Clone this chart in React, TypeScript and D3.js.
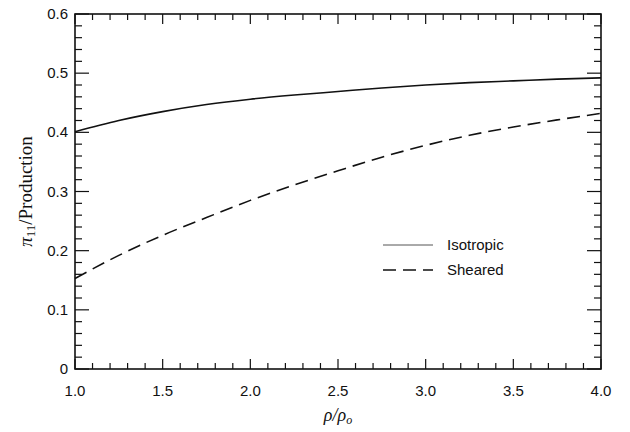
import React from "react";
import * as d3 from "d3";

const xValues = [1.0, 1.25, 1.5, 1.75, 2.0, 2.25, 2.5, 2.75, 3.0, 3.25, 3.5, 3.75, 4.0];
const isotropic = [0.401, 0.42, 0.435, 0.447, 0.456, 0.463, 0.469, 0.475, 0.480, 0.484, 0.487, 0.490, 0.492];
const sheared = [0.153, 0.192, 0.226, 0.256, 0.285, 0.311, 0.335, 0.358, 0.378, 0.395, 0.409, 0.421, 0.432];
const xTickLabels = ["1.0", "1.5", "2.0", "2.5", "3.0", "3.5", "4.0"];
const yTickLabels = ["0", "0.1", "0.2", "0.3", "0.4", "0.5", "0.6"];
const legendLabels = ["Isotropic", "Sheared"];

const W = 630;
const H = 432;
const left = 75;
const right = 601;
const top = 14;
const bottom = 369;

export default function App() {
  const x = d3.scaleLinear().domain([1, 4]).range([left, right]);
  const y = d3.scaleLinear().domain([0, 0.6]).range([bottom, top]);
  const line = d3
    .line<[number, number]>()
    .x((d) => x(d[0]))
    .y((d) => y(d[1]))
    .curve(d3.curveMonotoneX);

  const isoPts = xValues.map((v, i) => [v, isotropic[i]] as [number, number]);
  const shPts = xValues.map((v, i) => [v, sheared[i]] as [number, number]);

  const xMinor = d3.range(0, 31).map((i) => 1 + i * 0.1);
  const yMinor = d3.range(0, 31).map((i) => i * 0.02);

  const sans = "'Liberation Sans', Arial, Helvetica, sans-serif";
  const serif = "'Liberation Serif', 'Times New Roman', serif";

  return (
    <svg
      width={W}
      height={H}
      style={{ position: "absolute", left: 0, top: 0, background: "#fff" }}
    >
      <rect x={0} y={0} width={W} height={H} fill="#fff" />
      {xMinor.map((v, i) => {
        const major = i % 5 === 0;
        const len = major ? 10 : 6;
        const px = x(v);
        return (
          <g key={"xt" + i} stroke="#111" strokeWidth={1.2}>
            <line x1={px} x2={px} y1={bottom} y2={bottom - len} />
            <line x1={px} x2={px} y1={top} y2={top + len} />
          </g>
        );
      })}
      {yMinor.map((v, i) => {
        const major = i % 5 === 0;
        const len = major ? 14 : 7;
        const py = y(v);
        return (
          <g key={"yt" + i} stroke="#111" strokeWidth={1.2}>
            <line x1={left} x2={left + len} y1={py} y2={py} />
            <line x1={right} x2={right - len} y1={py} y2={py} />
          </g>
        );
      })}
      <rect
        x={left}
        y={top}
        width={right - left}
        height={bottom - top}
        fill="none"
        stroke="#111"
        strokeWidth={1.6}
      />
      {xTickLabels.map((t) => (
        <text
          key={"xl" + t}
          x={x(parseFloat(t))}
          y={396}
          textAnchor="middle"
          fontFamily={sans}
          fontSize={15}
          fill="#111"
        >
          {t}
        </text>
      ))}
      {yTickLabels.map((t) => (
        <text
          key={"yl" + t}
          x={68}
          y={y(parseFloat(t)) + 5}
          textAnchor="end"
          fontFamily={sans}
          fontSize={15}
          fill="#111"
        >
          {t}
        </text>
      ))}
      <path d={line(isoPts) || ""} fill="none" stroke="#111" strokeWidth={1.6} />
      <path
        d={line(shPts) || ""}
        fill="none"
        stroke="#111"
        strokeWidth={1.6}
        strokeDasharray="13,7"
      />
      <line x1={383} x2={433} y1={245} y2={245} stroke="#555" strokeWidth={1} />
      <text x={447} y={250} fontFamily={sans} fontSize={15} fill="#111">
        {legendLabels[0]}
      </text>
      <line
        x1={383}
        x2={433}
        y1={270}
        y2={270}
        stroke="#111"
        strokeWidth={1.6}
        strokeDasharray="13,7"
      />
      <text x={447} y={275} fontFamily={sans} fontSize={15} fill="#111">
        {legendLabels[1]}
      </text>
      <text
        x={(left + right) / 2}
        y={421}
        textAnchor="middle"
        fontFamily={serif}
        fontStyle="italic"
        fontSize={18}
        fill="#111"
      >
        ρ/ρ<tspan fontSize={12} dy={3}>o</tspan>
      </text>
      <text
        transform={`translate(32, ${(top + bottom) / 2}) rotate(-90)`}
        textAnchor="middle"
        fontFamily={serif}
        fontSize={19}
        fill="#111"
      >
        <tspan fontStyle="italic">π</tspan>
        <tspan fontSize={13} dy={3}>11</tspan>
        <tspan dy={-3}>/Production</tspan>
      </text>
    </svg>
  );
}
